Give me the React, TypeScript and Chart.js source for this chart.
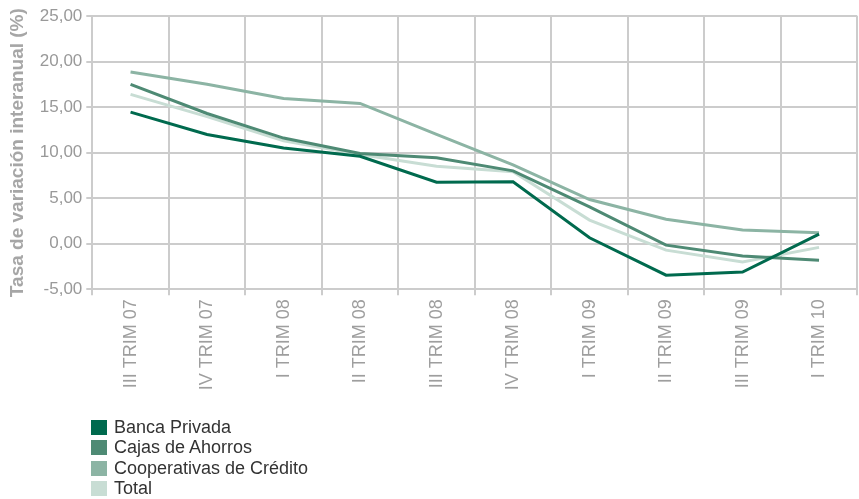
import React, { useEffect, useRef } from "react";
import { Chart, registerables } from "chart.js";

Chart.register(...registerables);

const categories = [
  "III TRIM 07", "IV TRIM 07", "I TRIM 08", "II TRIM 08", "III TRIM 08",
  "IV TRIM 08", "I TRIM 09", "II TRIM 09", "III TRIM 09", "I TRIM 10",
];

const bancaPrivada = [14.45, 12.0, 10.5, 9.6, 6.75, 6.8, 0.65, -3.45, -3.1, 1.05];
const cajasAhorros = [17.5, 14.3, 11.6, 9.9, 9.45, 8.0, 4.05, -0.15, -1.35, -1.8];
const cooperativas = [18.85, 17.5, 15.95, 15.4, 12.0, 8.65, 4.85, 2.7, 1.5, 1.2];
const total = [16.4, 13.95, 11.3, 9.8, 8.5, 7.9, 2.6, -0.7, -2.0, -0.4];

const seriesNames = ["Banca Privada", "Cajas de Ahorros", "Cooperativas de Crédito", "Total"];
const seriesColors = ["#006a4e", "#4e8a74", "#8cb4a4", "#c8ddd4"];
const seriesValues = [bancaPrivada, cajasAhorros, cooperativas, total];

const yMin = -5;
const yMax = 25;
const yStep = 5;
const yTitle = "Tasa de variación interanual (%)";

const FONT = "'Liberation Sans', Arial, sans-serif";

export default function App() {
  const canvasRef = useRef<HTMLCanvasElement | null>(null);

  useEffect(() => {
    document.body.style.margin = "0";
    document.body.style.overflow = "hidden";
    const canvas = canvasRef.current;
    if (!canvas) return;
    const chart = new Chart(canvas, {
      type: "line",
      data: {
        labels: categories,
        datasets: seriesValues.map((vals, i) => ({
          label: seriesNames[i],
          data: vals,
          borderColor: seriesColors[i],
          backgroundColor: seriesColors[i],
          borderWidth: 3,
          pointRadius: 0,
          tension: 0,
          fill: false,
        })),
      },
      options: {
        animation: false,
        responsive: false,
        layout: { padding: { top: 16, left: 0, right: 1.7, bottom: 0 } },
        plugins: { legend: { display: false }, tooltip: { enabled: false } },
        scales: {
          x: {
            type: "category",
            offset: true,
            grid: {
              offset: true,
              color: "#cccccc",
              lineWidth: 2,
              tickLength: 6,
              drawTicks: true,
            },
            border: { color: "#cccccc", width: 2 },
            ticks: {
              minRotation: 90,
              maxRotation: 90,
              autoSkip: false,
              padding: 4,
              color: "#9e9e9e",
              font: { family: FONT, size: 18 },
            },
            afterFit: (scale: any) => {
              scale.height = 499 - 289.3;
            },
          },
          y: {
            min: yMin,
            max: yMax,
            grid: { color: "#cccccc", lineWidth: 2, tickLength: 6 },
            border: { color: "#cccccc", width: 2 },
            ticks: {
              stepSize: yStep,
              padding: 4,
              color: "#999999",
              font: { family: FONT, size: 17 },
              callback: (v: any) => Number(v).toFixed(2).replace(".", ","),
            },
            title: {
              display: true,
              text: yTitle,
              color: "#a6a6a6",
              font: { family: FONT, size: 19, weight: "bold" },
              padding: { top: 6, bottom: 0 },
            },
            afterFit: (scale: any) => {
              scale.width = 92.3;
            },
          },
        },
      },
    });
    return () => chart.destroy();
  }, []);

  return (
    <div style={{ position: "relative", width: 859, height: 499, overflow: "hidden" }}>
      <canvas ref={canvasRef} width={859} height={499} style={{ display: "block", width: 859, height: 499 }} />
      <div style={{ position: "absolute", left: 91, top: 417, fontFamily: FONT, fontSize: 18, color: "#333333" }}>
        {seriesNames.map((name, i) => (
          <div key={name} style={{ display: "flex", alignItems: "flex-start", height: 20.3, lineHeight: "20.3px", whiteSpace: "nowrap" }}>
            <span style={{ display: "inline-block", width: 16, height: 15, marginTop: 3, marginRight: 7, background: seriesColors[i] }} />
            <span>{name}</span>
          </div>
        ))}
      </div>
    </div>
  );
}
